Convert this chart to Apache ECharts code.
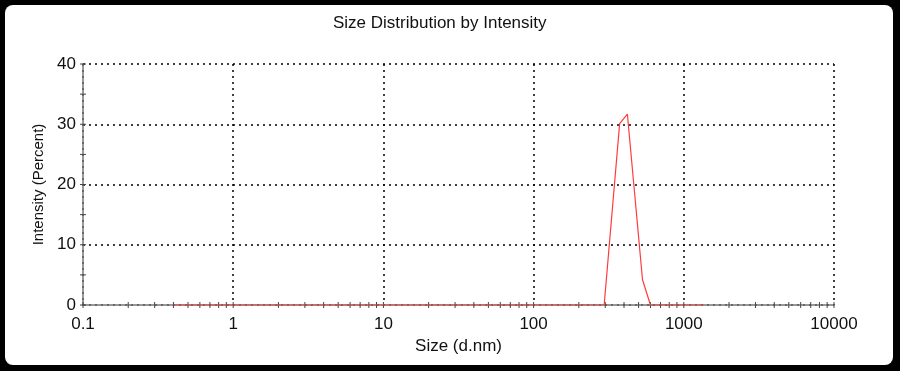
<!DOCTYPE html>
<html>
<head>
<meta charset="utf-8">
<script src="https://cdn.jsdelivr.net/npm/echarts@6/dist/echarts.min.js"></script>
<style>
  html, body { margin: 0; padding: 0; background: #000; }
  #chart { width: 900px; height: 371px; }
</style>
</head>
<body>
<div id="chart"></div>
<script>
// size (d.nm) / intensity (%) points
var sizes = [0.4, 295, 374, 421, 531, 600, 1360];
var intensity = [0, 0, 30.1, 31.7, 4.2, 0, 0];

var xTickLabels = ['0.1', '1', '10', '100', '1000', '10000'];
var yTicks = [0, 5, 10, 15, 20, 25, 30, 35, 40];
var minorSteps = [1, 2, 3, 4, 5, 6, 7, 8, 9];

var xTicks = [];
for (var d = 0; d < xTickLabels.length - 1; d++) {
    var base = parseFloat(xTickLabels[d]);
    for (var k = 0; k < minorSteps.length; k++) {
        xTicks.push(base * minorSteps[k]);
    }
}
xTicks.push(10000);

var lineData = sizes.map(function (s, i) { return [s, intensity[i]]; });
var font = '"Liberation Sans", Arial, sans-serif';

var chart = echarts.init(document.getElementById('chart'));

// short tick crossing the axis line, drawn on the axis scale
function tickItem(horizontal) {
    return function (params, api) {
        var p = api.coord([api.value(0), api.value(1)]);
        var shape = horizontal
            ? { x1: p[0] - 3, y1: p[1], x2: p[0] + 3, y2: p[1] }
            : { x1: p[0], y1: p[1] - 3, x2: p[0], y2: p[1] + 3 };
        return { type: 'line', shape: shape, style: { stroke: '#444', lineWidth: 1 } };
    };
}

var option = {
    animation: false,
    backgroundColor: 'transparent',
    graphic: [
        {
            type: 'rect',
            z: -10,
            shape: { x: 5, y: 5, width: 888, height: 360, r: 8 },
            style: { fill: '#fff' }
        }
    ],
    title: {
        text: 'Size Distribution by Intensity',
        left: 328,
        top: 10,
        textStyle: { fontFamily: font, fontSize: 17, fontWeight: 'normal', color: '#111' }
    },
    grid: { left: 83, right: 66, top: 64, bottom: 66 },
    xAxis: {
        type: 'log',
        logBase: 10,
        min: 0.1,
        max: 10000,
        name: 'Size (d.nm)',
        nameLocation: 'middle',
        nameGap: 30,
        nameTextStyle: { fontFamily: font, fontSize: 17, color: '#111' },
        axisLine: { onZero: false, lineStyle: { color: '#777', width: 1.5 } },
        axisTick: { show: false },
        axisLabel: {
            fontFamily: font, fontSize: 17, color: '#111', margin: 11,
            formatter: function (v) {
                var i = Math.round(Math.log10(v)) + 1;
                return xTickLabels[i] || '';
            }
        },
        splitLine: { show: true, lineStyle: { color: '#000', type: [2, 4], width: 1.5 } }
    },
    yAxis: {
        type: 'value',
        min: 0,
        max: 40,
        interval: 10,
        name: 'Intensity (Percent)',
        nameLocation: 'middle',
        nameGap: 35,
        nameTextStyle: { fontFamily: font, fontSize: 15, color: '#111' },
        axisLine: { show: true, lineStyle: { color: '#777', width: 1.5 } },
        axisTick: { show: false },
        axisLabel: { fontFamily: font, fontSize: 17, color: '#111', margin: 7 },
        splitLine: { show: true, lineStyle: { color: '#000', type: [2, 4], width: 1.5 } }
    },
    series: [
        {
            type: 'custom',
            renderItem: tickItem(false),
            data: xTicks.map(function (v) { return [v, 0]; }),
            silent: true,
            clip: false,
            z: 3
        },
        {
            type: 'custom',
            renderItem: tickItem(true),
            data: yTicks.map(function (v) { return [0.1, v]; }),
            silent: true,
            clip: false,
            z: 3
        },
        {
            type: 'line',
            data: lineData,
            symbol: 'none',
            lineStyle: { color: '#ff3b3b', width: 1.2 },
            z: 4
        }
    ]
};
chart.setOption(option);
</script>
</body>
</html>
